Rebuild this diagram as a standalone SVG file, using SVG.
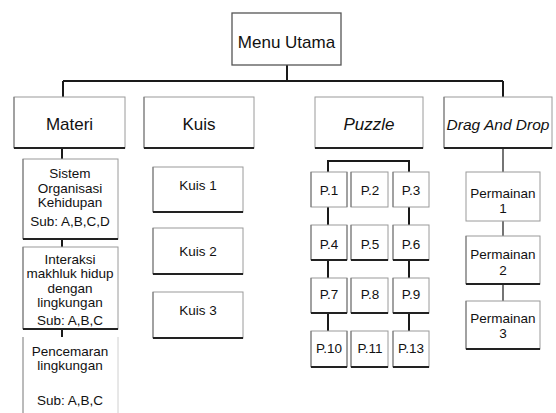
<svg xmlns="http://www.w3.org/2000/svg" width="556" height="413" viewBox="0 0 556 413">
  <style>
    text { font-family: "Liberation Sans", Arial, sans-serif; fill: #111; text-anchor: middle; }
    .big { font-size: 17px; }
    .dd { font-size: 15.5px; }
    .sm { font-size: 13.5px; }
    .it { font-style: italic; }
    .box { fill: #fff; stroke: #9a9a9a; stroke-width: 1; }
    .main { fill: #fff; stroke: #555; stroke-width: 1.3; }
    .base { stroke: #222; stroke-width: 2; fill: none; }
    .side { stroke: #777; stroke-width: 1; fill: none; }
    .wire { stroke: #1a1a1a; stroke-width: 2; fill: none; }
    .thin { stroke: #1a1a1a; stroke-width: 1.2; fill: none; }
  </style>

  <!-- connectors -->
  <g id="connectors">
    <path class="wire" d="M287,65 V81 M63,81 H503 M63,81 V97 M503,81 V97"/>
    <path class="wire" d="M62,148 V159 M62,239 V247 M62,329 V337"/>
    <path class="wire" d="M328,172 V161 H409 V172"/>
    <path class="wire" d="M328,207 V225 M328,260 V278 M328,313 V331"/>
    <path class="wire" d="M409,207 V225 M409,260 V278 M409,313 V331"/>
    <path class="thin" d="M503,148 V172 M503,221 V236 M503,284 V301"/>
  </g>

  <!-- root -->
  <g id="menu-utama">
    <rect class="main" x="232" y="13" width="109" height="52"/>
    <text class="big" x="286.5" y="48">Menu Utama</text>
  </g>

  <!-- first level -->
  <g id="materi">
    <rect class="box" x="14" y="97" width="111" height="51"/>
    <path class="side" d="M14,97 V148"/>
    <path class="base" d="M14,148 H125"/>
    <text class="big" x="69.5" y="130">Materi</text>
  </g>
  <g id="kuis">
    <rect class="box" x="144" y="97" width="110" height="51"/>
    <path class="side" d="M144,97 V148"/>
    <path class="base" d="M144,148 H254"/>
    <text class="big" x="199" y="130">Kuis</text>
  </g>
  <g id="puzzle">
    <rect class="box" x="315" y="97" width="108" height="51"/>
    <path class="base" d="M315,148 H423"/>
    <text class="big it" x="369" y="130">Puzzle</text>
  </g>
  <g id="drag-and-drop">
    <rect class="box" x="444" y="97" width="108" height="51"/>
    <path class="side" d="M444,97 V148"/>
    <path class="base" d="M444,148 H552"/>
    <text class="dd it" x="498" y="130">Drag And Drop</text>
  </g>

  <!-- Materi topics -->
  <g id="materi-1">
    <rect class="box" x="23" y="159" width="95" height="80"/>
    <path class="side" d="M23,159 V239"/>
    <path class="base" d="M23,239 H118"/>
    <text class="sm" x="70" y="177.5">Sistem</text>
    <text class="sm" x="70" y="192.5">Organisasi</text>
    <text class="sm" x="70" y="206.5">Kehidupan</text>
    <text class="sm" x="70" y="225.5">Sub: A,B,C,D</text>
  </g>
  <g id="materi-2">
    <rect class="box" x="23" y="247" width="95" height="82"/>
    <path class="side" d="M23,247 V329"/>
    <path class="base" d="M23,329 H118"/>
    <text class="sm" x="70" y="263.5">Interaksi</text>
    <text class="sm" x="70" y="277.5">makhluk hidup</text>
    <text class="sm" x="70" y="292.5">dengan</text>
    <text class="sm" x="70" y="306.5">lingkungan</text>
    <text class="sm" x="70" y="324.5">Sub: A,B,C</text>
  </g>
  <g id="materi-3">
    <path class="side" d="M23,337 V413"/>
    <path stroke="#d0d0d0" stroke-width="1" fill="none" d="M118,337 V413"/>
    <text class="sm" x="70" y="355.5">Pencemaran</text>
    <text class="sm" x="70" y="369.5">lingkungan</text>
    <text class="sm" x="70" y="405">Sub: A,B,C</text>
  </g>

  <!-- Kuis items -->
  <g id="kuis-1">
    <rect class="box" x="153" y="167" width="90" height="45"/>
    <path class="side" d="M153,167 V212"/>
    <path class="base" d="M153,212 H243"/>
    <text class="sm" x="198" y="190">Kuis 1</text>
  </g>
  <g id="kuis-2">
    <rect class="box" x="153" y="228" width="90" height="46"/>
    <path class="side" d="M153,228 V274"/>
    <path class="base" d="M153,274 H243"/>
    <text class="sm" x="198" y="256">Kuis 2</text>
  </g>
  <g id="kuis-3">
    <rect class="box" x="153" y="292" width="90" height="46"/>
    <path class="side" d="M153,292 V338"/>
    <path class="base" d="M153,338 H243"/>
    <text class="sm" x="198" y="315">Kuis 3</text>
  </g>

  <!-- Puzzle grid -->
  <g id="p1"><rect class="box" x="311" y="172" width="36" height="35"/><path class="side" d="M311,172 V207 M347,172 V207"/><text class="sm" x="329" y="194.5">P.1</text></g>
  <g id="p2"><rect class="box" x="351" y="172" width="37" height="35"/><path class="side" d="M351,172 V207"/><text class="sm" x="370" y="194.5">P.2</text></g>
  <g id="p3"><rect class="box" x="393" y="172" width="36" height="35"/><path class="side" d="M393,172 V207"/><text class="sm" x="411" y="194.5">P.3</text></g>

  <g id="p4"><rect class="box" x="311" y="225" width="36" height="35"/><path class="side" d="M311,225 V260 M347,225 V260"/><path class="base" d="M311,260 H347"/><text class="sm" x="329" y="248.5">P.4</text></g>
  <g id="p5"><rect class="box" x="351" y="225" width="37" height="35"/><path class="side" d="M351,225 V260"/><path class="base" d="M351,260 H388"/><text class="sm" x="370" y="248.5">P.5</text></g>
  <g id="p6"><rect class="box" x="393" y="225" width="36" height="35"/><path class="side" d="M393,225 V260"/><path class="base" d="M393,260 H429"/><text class="sm" x="411" y="248.5">P.6</text></g>

  <g id="p7"><rect class="box" x="311" y="278" width="36" height="35"/><path class="side" d="M311,278 V313 M347,278 V313"/><path class="base" d="M311,313 H347"/><text class="sm" x="329" y="298.5">P.7</text></g>
  <g id="p8"><rect class="box" x="351" y="278" width="37" height="35"/><path class="side" d="M351,278 V313"/><path class="base" d="M351,313 H388"/><text class="sm" x="370" y="298.5">P.8</text></g>
  <g id="p9"><rect class="box" x="393" y="278" width="36" height="35"/><path class="side" d="M393,278 V313"/><path class="base" d="M393,313 H429"/><text class="sm" x="411" y="298.5">P.9</text></g>

  <g id="p10"><rect class="box" x="311" y="331" width="36" height="36"/><path class="side" d="M311,331 V367 M347,331 V367"/><path class="base" d="M311,367 H347"/><text class="sm" x="329" y="352.5">P.10</text></g>
  <g id="p11"><rect class="box" x="351" y="331" width="37" height="36"/><path class="side" d="M351,331 V367"/><path class="base" d="M351,367 H388"/><text class="sm" x="370" y="352.5">P.11</text></g>
  <g id="p13"><rect class="box" x="393" y="331" width="36" height="36"/><path class="side" d="M393,331 V367"/><path class="base" d="M393,367 H429"/><text class="sm" x="411" y="352.5">P.13</text></g>

  <!-- Drag And Drop games -->
  <g id="permainan-1">
    <rect class="box" x="466" y="172" width="74" height="49"/>
    <text class="sm" x="503" y="197.5">Permainan</text>
    <text class="sm" x="503" y="212.5">1</text>
  </g>
  <g id="permainan-2">
    <rect class="box" x="466" y="236" width="74" height="48"/>
    <path class="side" d="M466,236 V284"/>
    <path class="base" d="M466,284 H540"/>
    <text class="sm" x="503" y="258.5">Permainan</text>
    <text class="sm" x="503" y="274.5">2</text>
  </g>
  <g id="permainan-3">
    <rect class="box" x="466" y="301" width="74" height="48"/>
    <path class="side" d="M466,301 V349"/>
    <path class="base" d="M466,349 H540"/>
    <text class="sm" x="503" y="322.5">Permainan</text>
    <text class="sm" x="503" y="337.5">3</text>
  </g>
</svg>
